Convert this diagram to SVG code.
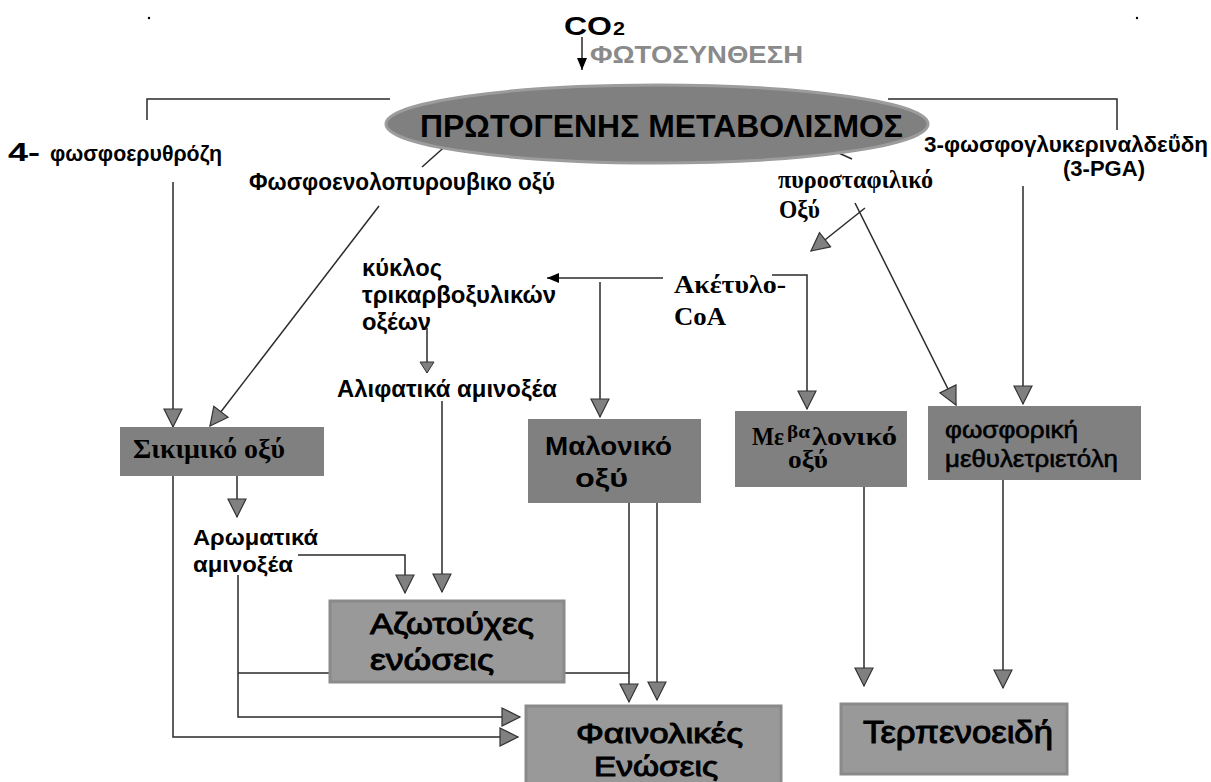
<svg xmlns="http://www.w3.org/2000/svg" width="1211" height="782" viewBox="0 0 1211 782">
<style>
.sb{font-family:"Liberation Sans",Arial,sans-serif;font-weight:bold;fill:#000}
.sm{font-family:"Liberation Sans",Arial,sans-serif;font-weight:normal;fill:#000;stroke:#000;stroke-width:0.6}
.sl{font-family:"Liberation Sans",Arial,sans-serif;font-weight:normal;fill:#000;stroke:#000;stroke-width:1}
.tb{font-family:"Liberation Serif","Times New Roman",serif;font-weight:bold;fill:#000}
.box{fill:#808080}
.box2{fill:#999999;stroke:#8a8a8a;stroke-width:3}
.ln{fill:none;stroke:#2a2a2a;stroke-width:1.5}
.ag{marker-end:url(#ag)}
.as{marker-end:url(#as)}
.ab{marker-end:url(#ab)}
</style>
<defs>
<marker id="ag" markerUnits="userSpaceOnUse" markerWidth="22" markerHeight="22" refX="18" refY="9" orient="auto" viewBox="-1 -1 22 22">
<path d="M0,0 L18,9 L0,18 Z" fill="#808080" stroke="#333" stroke-width="1.2"/>
</marker>
<marker id="as" markerUnits="userSpaceOnUse" markerWidth="14" markerHeight="16" refX="11" refY="7" orient="auto" viewBox="-1 -1 14 16">
<path d="M0,0 L11,7 L0,14 Z" fill="#808080" stroke="#333" stroke-width="1"/>
</marker>
<marker id="ab" markerUnits="userSpaceOnUse" markerWidth="14" markerHeight="14" refX="12" refY="5" orient="auto" viewBox="0 0 14 14">
<path d="M0,0 L12,5 L0,10 Z" fill="#000"/>
</marker>
</defs>
<rect width="1211" height="782" fill="#fff"/>
<circle cx="149" cy="18" r="1.2" fill="#000"/>
<circle cx="1137" cy="18" r="1.2" fill="#000"/>

<g id="connectors">
<path class="ln ab" d="M582,37 V70"/>
<path class="ln" d="M390,99 H147 V120"/>
<path class="ln" d="M888,99 H1117 V130"/>
<path class="ln" d="M450,142 L422,167"/>
<path class="ln" d="M810,140 L852,159"/>
<path class="ln ag" d="M173,182 V427"/>
<path class="ln ag" d="M379,206 L210,426"/>
<path class="ln ag" d="M865,208 L811,251"/>
<path class="ln ag" d="M855,203 L956,405"/>
<path class="ln ag" d="M1023,186 V404"/>
<path class="ln ab" d="M663,278 H547"/>
<path class="ln ag" d="M600,282 V417"/>
<path class="ln ag" d="M772,275 H807 V409"/>
<path class="ln as" d="M427,328 V373"/>
<path class="ln ag" d="M442,401 V592"/>
<path class="ln ag" d="M237,465 V517"/>
<path class="ln ag" d="M298,555 H405 V593"/>
<path class="ln ag" d="M173,465 V737 H518"/>
<path class="ln ag" d="M238,575 V717 H520"/>
<path class="ln" d="M238,673 H629"/>
<path class="ln ag" d="M629,500 V702"/>
<path class="ln ag" d="M657,492 V700"/>
<path class="ln ag" d="M864,487 V686"/>
<path class="ln ag" d="M1003,462 V688"/>
</g>

<g id="co2">
<text class="sb" x="564" y="35" font-size="26" textLength="48" lengthAdjust="spacingAndGlyphs">CO</text>
<text class="sb" x="613" y="35" font-size="18" textLength="12" lengthAdjust="spacingAndGlyphs">2</text>
</g>
<g id="photosynthesis">
<text class="sb" x="590" y="63" font-size="23" style="fill:#8a8a8a" textLength="213" lengthAdjust="spacingAndGlyphs">ΦΩΤΟΣΥΝΘΕΣΗ</text>
</g>

<g id="primary">
<ellipse cx="657" cy="124" rx="271" ry="39" fill="#808080" stroke="#9c9c9c" stroke-width="3"/>
<text class="sb" x="420" y="137" font-size="31" textLength="483" lengthAdjust="spacingAndGlyphs">ΠΡΩΤΟΓΕΝΗΣ ΜΕΤΑΒΟΛΙΣΜΟΣ</text>
</g>

<g id="erythrose">
<text class="sb" x="8" y="161" font-size="26" textLength="32" lengthAdjust="spacingAndGlyphs">4-</text>
<text class="sb" x="50" y="161" font-size="22" textLength="172" lengthAdjust="spacingAndGlyphs">φωσφοερυθρόζη</text>
</g>

<g id="pep">
<text class="sb" x="249" y="190" font-size="23" textLength="306" lengthAdjust="spacingAndGlyphs">Φωσφοενολοπυρουβικο οξύ</text>
</g>

<g id="pyruvate">
<text class="tb" x="778" y="188" font-size="25" textLength="155" lengthAdjust="spacingAndGlyphs">πυροσταφιλικό</text>
<text class="tb" x="779" y="218" font-size="25" textLength="41" lengthAdjust="spacingAndGlyphs">Οξύ</text>
</g>

<g id="pga">
<text class="sb" x="924" y="152" font-size="22" textLength="284" lengthAdjust="spacingAndGlyphs">3-φωσφογλυκεριναλδεΰδη</text>
<text class="sb" x="1063" y="176" font-size="22" textLength="82" lengthAdjust="spacingAndGlyphs">(3-PGA)</text>
</g>

<g id="tca">
<text class="sb" x="362" y="276" font-size="23" textLength="80" lengthAdjust="spacingAndGlyphs">κύκλος</text>
<text class="sb" x="362" y="303" font-size="23" textLength="194" lengthAdjust="spacingAndGlyphs">τρικαρβοξυλικών</text>
<text class="sb" x="362" y="330" font-size="23" textLength="69" lengthAdjust="spacingAndGlyphs">οξέων</text>
</g>

<g id="acetylcoa">
<text class="tb" x="674" y="293" font-size="26" textLength="112" lengthAdjust="spacingAndGlyphs">Ακέτυλο-</text>
<text class="tb" x="674" y="325" font-size="26" textLength="52" lengthAdjust="spacingAndGlyphs">CoA</text>
</g>

<g id="aliphatic">
<text class="sb" x="337" y="397" font-size="23" textLength="220" lengthAdjust="spacingAndGlyphs">Αλιφατικά αμινοξέα</text>
</g>

<g id="shikimic">
<rect class="box" x="120" y="427" width="204" height="49"/>
<text class="tb" x="133" y="458" font-size="27" textLength="152" lengthAdjust="spacingAndGlyphs">Σικιμικό οξύ</text>
</g>

<g id="malonic">
<rect class="box" x="528" y="419" width="173" height="84"/>
<text class="sb" x="545" y="455" font-size="25" textLength="127" lengthAdjust="spacingAndGlyphs">Μαλονικό</text>
<text class="sb" x="575" y="487" font-size="25" textLength="53" lengthAdjust="spacingAndGlyphs">οξύ</text>
</g>

<g id="mevalonic">
<rect class="box" x="735" y="411" width="172" height="76"/>
<text class="tb" x="752" y="445" font-size="26" textLength="32" lengthAdjust="spacingAndGlyphs">Με</text>
<text class="tb" x="787" y="438" font-size="18" textLength="23" lengthAdjust="spacingAndGlyphs">βα</text>
<text class="tb" x="812" y="445" font-size="26" textLength="85" lengthAdjust="spacingAndGlyphs">λονικό</text>
<text class="tb" x="788" y="468" font-size="26" textLength="40" lengthAdjust="spacingAndGlyphs">οξύ</text>
</g>

<g id="mep">
<rect class="box" x="928" y="406" width="213" height="74"/>
<text class="sm" x="945" y="438" font-size="23" textLength="133" lengthAdjust="spacingAndGlyphs">φωσφορική</text>
<text class="sm" x="945" y="467" font-size="23" textLength="173" lengthAdjust="spacingAndGlyphs">μεθυλετριετόλη</text>
</g>

<g id="aromatic">
<text class="sb" x="193" y="545" font-size="22" textLength="125" lengthAdjust="spacingAndGlyphs">Αρωματικά</text>
<text class="sb" x="193" y="572" font-size="22" textLength="100" lengthAdjust="spacingAndGlyphs">αμινοξέα</text>
</g>

<g id="nitrogen">
<rect class="box2" x="330" y="601" width="234" height="81"/>
<text class="sl" x="370" y="634" font-size="30" textLength="164" lengthAdjust="spacingAndGlyphs">Αζωτούχες</text>
<text class="sl" x="370" y="670" font-size="30" textLength="124" lengthAdjust="spacingAndGlyphs">ενώσεις</text>
</g>

<g id="phenolic">
<rect class="box2" x="526" y="706" width="255" height="90"/>
<text class="sl" x="576" y="743" font-size="28" textLength="167" lengthAdjust="spacingAndGlyphs">Φαινολικές</text>
<text class="sl" x="594" y="776" font-size="28" textLength="124" lengthAdjust="spacingAndGlyphs">Ενώσεις</text>
</g>

<g id="terpenoids">
<rect class="box2" x="841" y="704" width="226" height="70"/>
<text class="sl" x="863" y="743" font-size="31" textLength="190" lengthAdjust="spacingAndGlyphs">Τερπενοειδή</text>
</g>
</svg>
